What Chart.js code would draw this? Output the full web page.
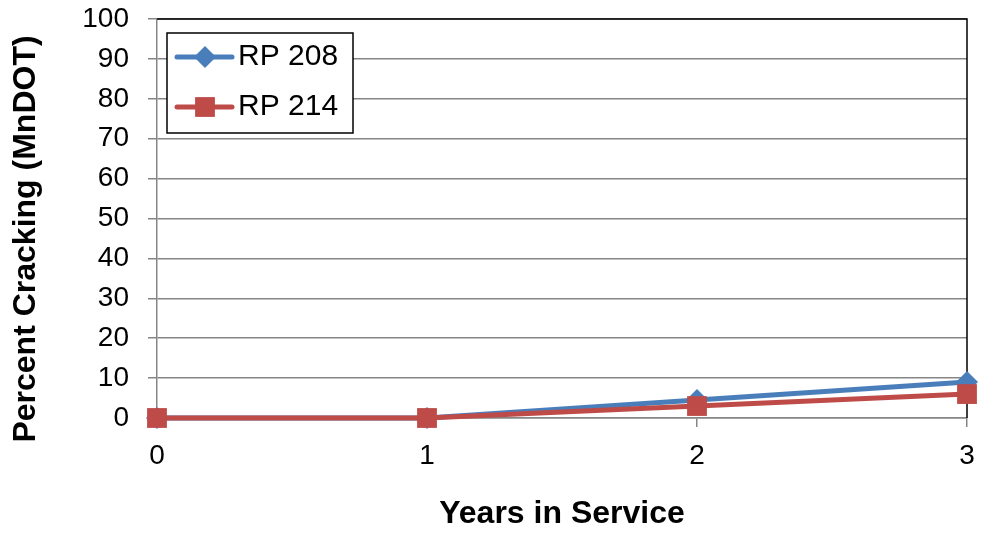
<!DOCTYPE html>
<html>
<head>
<meta charset="utf-8">
<script src="https://cdn.jsdelivr.net/npm/chart.js@4/dist/chart.umd.min.js"></script>
<style>
  html, body { margin: 0; padding: 0; background: #fff; }
  #wrap { width: 981px; height: 533px; }
</style>
</head>
<body>
<div id="wrap"><canvas id="crackChart"></canvas></div>
<script>
// chart values
const years = [0, 1, 2, 3];
const rp208 = [0, 0, 4.5, 9];
const rp214 = [0, 0, 3, 6];
const seriesNames = ['RP 208', 'RP 214'];
const xTitle = 'Years in Service';
const yTitle = 'Percent Cracking (MnDOT)';

const blue = '#4A7EBB';
const red = '#BE4B48';
const gridGrey = '#868686';

function toPoints(vals) {
    return years.map((yr, i) => ({ x: yr, y: vals[i] }));
}

// black frame on top and right of plot area
const frame = {
    id: 'frame',
    beforeDatasetsDraw(chart) {
        const { ctx, chartArea: a } = chart;
        ctx.save();
        ctx.strokeStyle = '#000';
        ctx.lineWidth = 1.5;
        ctx.beginPath();
        ctx.moveTo(a.left, a.top);
        ctx.lineTo(a.right, a.top);
        ctx.lineTo(a.right, a.bottom);
        ctx.stroke();
        ctx.restore();
    }
};

// boxed legend inside plot plus rotated y title
const extras = {
    id: 'extras',
    afterDraw(chart) {
        const ctx = chart.ctx;
        ctx.save();
        // y title
        ctx.translate(26, 239);
        ctx.rotate(-Math.PI / 2);
        ctx.font = 'bold 32px "Liberation Sans", Arial, sans-serif';
        ctx.fillStyle = '#000';
        ctx.textAlign = 'center';
        ctx.textBaseline = 'middle';
        ctx.fillText(yTitle, 0, 0);
        ctx.restore();

        // legend box
        ctx.save();
        ctx.fillStyle = '#fff';
        ctx.fillRect(167, 33, 186, 100);
        ctx.strokeStyle = '#000';
        ctx.lineWidth = 1.5;
        ctx.strokeRect(167, 33, 186, 100);
        const rows = [57, 107];
        chart.data.datasets.forEach((ds, i) => {
            const y = rows[i];
            ctx.strokeStyle = ds.borderColor;
            ctx.lineWidth = 5;
            ctx.lineCap = 'round';
            ctx.beginPath();
            ctx.moveTo(177, y);
            ctx.lineTo(232, y);
            ctx.stroke();
            ctx.fillStyle = ds.backgroundColor;
            Chart.helpers.drawPoint(ctx, {
                pointStyle: ds.pointStyle,
                radius: ds.pointRadius,
                borderWidth: 0
            }, 205, y);
            ctx.fillStyle = '#000';
            ctx.font = '30px "Liberation Sans", Arial, sans-serif';
            ctx.textAlign = 'left';
            ctx.textBaseline = 'middle';
            ctx.fillText(ds.label, 238, y);
        });
        ctx.restore();
    }
};

new Chart(document.getElementById('crackChart'), {
    type: 'line',
    data: {
        datasets: [
            {
                label: seriesNames[0],
                data: toPoints(rp208),
                borderColor: blue,
                backgroundColor: blue,
                borderWidth: 5,
                pointStyle: 'rectRot',
                pointRadius: 11,
                pointBorderWidth: 0,
                clip: false,
                order: 1
            },
            {
                label: seriesNames[1],
                data: toPoints(rp214),
                borderColor: red,
                backgroundColor: red,
                borderWidth: 5,
                pointStyle: 'rect',
                pointRadius: 14,
                pointBorderWidth: 0,
                clip: false,
                order: 0
            }
        ]
    },
    options: {
        responsive: true,
        maintainAspectRatio: false,
        animation: false,
        layout: { padding: 0 },
        plugins: {
            legend: { display: false },
            tooltip: { enabled: false }
        },
        scales: {
            x: {
                type: 'linear',
                min: 0,
                max: 3,
                ticks: {
                    stepSize: 1,
                    color: '#000',
                    padding: 12,
                    font: { family: '"Liberation Sans", Arial, sans-serif', size: 28 }
                },
                grid: {
                    drawOnChartArea: false,
                    drawTicks: true,
                    tickLength: 9,
                    color: gridGrey,
                    lineWidth: 1.5
                },
                border: { color: gridGrey, width: 1.5 },
                title: {
                    display: true,
                    text: xTitle,
                    color: '#000',
                    padding: { top: 0, bottom: 0 },
                    font: { family: '"Liberation Sans", Arial, sans-serif', size: 32, weight: 'bold' }
                },
                afterFit(scale) {
                    scale.height = 115;
                    scale.paddingLeft = 8;
                    scale.paddingRight = 13;
                }
            },
            y: {
                min: 0,
                max: 100,
                ticks: {
                    stepSize: 10,
                    color: '#000',
                    padding: 19,
                    font: { family: '"Liberation Sans", Arial, sans-serif', size: 28 }
                },
                grid: {
                    color: gridGrey,
                    lineWidth: 1.5,
                    tickLength: 9
                },
                border: { color: gridGrey, width: 1.5 },
                afterFit(scale) {
                    scale.width = 157;
                    scale.paddingTop = 19;
                    scale.paddingBottom = 10;
                }
            }
        }
    },
    plugins: [frame, extras]
});
</script>
</body>
</html>
